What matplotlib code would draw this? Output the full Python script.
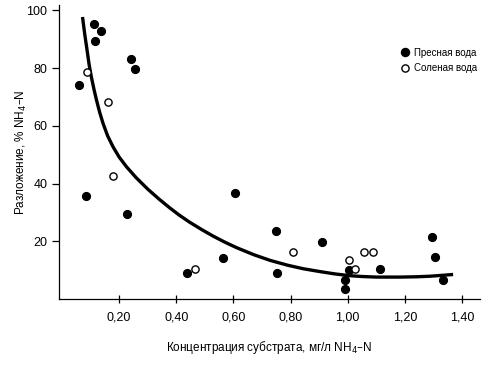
import matplotlib
matplotlib.use("Agg")
import matplotlib.pyplot as plt
from matplotlib.lines import Line2D

plt.rcParams['font.family'] = ['Liberation Sans', 'DejaVu Sans']

# Freshwater (filled)
fresh_x = [0.111, 0.138, 0.115, 0.242, 0.255, 0.059, 0.083, 0.227, 0.605, 0.562, 0.437,
           0.749, 0.751, 0.910, 1.005, 0.989, 0.989, 1.113, 1.294, 1.305, 1.335]
fresh_y = [95.4, 92.7, 89.4, 83.1, 79.6, 74.1, 35.7, 29.4, 36.7, 14.2, 8.9,
           23.5, 9.0, 19.8, 10.2, 6.7, 3.5, 10.5, 21.5, 14.5, 6.5]
# Salt water (open)
salt_x = [0.089, 0.160, 0.179, 0.464, 0.810, 1.003, 1.024, 1.057, 1.089]
salt_y = [78.7, 68.2, 42.5, 10.5, 16.2, 13.5, 10.3, 16.4, 16.4]
# Fitted curve
curve_x = [0.072, 0.080, 0.088, 0.095, 0.103, 0.112, 0.121, 0.132, 0.144, 0.160,
           0.179, 0.200, 0.226, 0.260, 0.301, 0.340, 0.377, 0.410, 0.447, 0.490,
           0.529, 0.570, 0.611, 0.670, 0.728, 0.790, 0.844, 0.903, 0.955, 1.005,
           1.050, 1.100, 1.183, 1.240, 1.288, 1.330, 1.369]
curve_y = [97.7, 91.6, 86.2, 81.3, 76.9, 72.7, 68.9, 64.7, 60.8, 56.5,
           52.7, 49.2, 45.8, 42.0, 38.0, 34.6, 31.6, 29.1, 26.6, 24.0,
           21.8, 19.7, 17.8, 15.4, 13.4, 11.7, 10.5, 9.5, 8.7, 8.1,
           7.8, 7.6, 7.6, 7.7, 7.9, 8.2, 8.5]

xticks = [0.2, 0.4, 0.6, 0.8, 1.0, 1.2, 1.4]
xticklabels = ['0,20', '0,40', '0,60', '0,80', '1,00', '1,20', '1,40']
yticks = [20, 40, 60, 80, 100]

fig = plt.figure(figsize=(5.0, 3.66), dpi=100)
ax = fig.add_axes([0.117, 0.183, 0.843, 0.803])

ax.plot(curve_x, curve_y, color='black', lw=2.4, solid_capstyle='butt',
        solid_joinstyle='round', zorder=2)
ax.plot(fresh_x, fresh_y, 'o', ms=5.8, mfc='black', mec='black', mew=0.8, zorder=3)
ax.plot(salt_x, salt_y, 'o', ms=5.2, mfc='white', mec='black', mew=1.0, zorder=3)

ax.set_xlim(-0.012, 1.463)
ax.set_ylim(0, 101.8)
ax.set_xticks(xticks)
ax.set_xticklabels(xticklabels)
ax.set_yticks(yticks)
for s in ['top', 'right']:
    ax.spines[s].set_visible(False)
for s in ['left', 'bottom']:
    ax.spines[s].set_linewidth(0.9)
ax.tick_params(axis='x', direction='inout', length=6, width=0.9, labelsize=9, pad=6)
ax.tick_params(axis='y', direction='out', length=5, width=0.9, labelsize=9, pad=3)

ax.set_xlabel('Концентрация субстрата, мг/л NH$_4$–N', fontsize=8.5, labelpad=11)
ax.set_ylabel('Разложение, % NH$_4$–N', fontsize=8.5, labelpad=-2)

handles = [Line2D([], [], ls='none', marker='o', ms=5.8, mfc='black', mec='black'),
           Line2D([], [], ls='none', marker='o', ms=5.2, mfc='white', mec='black', mew=1.0)]
ax.legend(handles, ['Пресная вода', 'Соленая вода'], loc='upper left',
          bbox_to_anchor=(0.79, 0.885), frameon=False, fontsize=7,
          handletextpad=0.4, labelspacing=0.55, handlelength=1.0)

fig.savefig('out.png', dpi=100)
